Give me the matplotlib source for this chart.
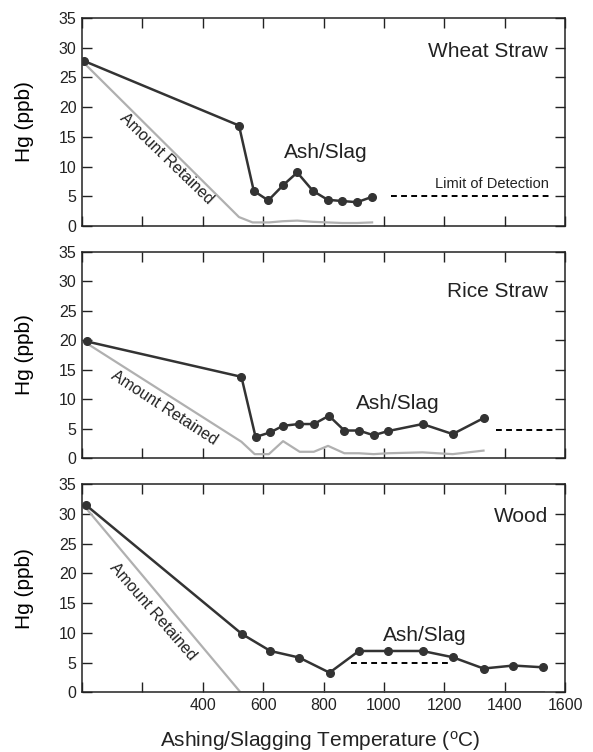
import numpy as np
import matplotlib
matplotlib.use("Agg")
import matplotlib.pyplot as plt

plt.rcParams["font.family"] = ["Liberation Sans", "DejaVu Sans"]
plt.rcParams["mathtext.default"] = "regular"

# ---- data ----
wheat_t = [5, 520, 569, 617, 667, 713, 765, 814, 862, 911, 961]
wheat_hg = [27.8, 16.9, 5.9, 4.3, 6.9, 9.0, 5.9, 4.4, 4.2, 4.0, 4.9]
wheat_ret_t = [5, 520, 565, 620, 665, 713, 765, 814, 862, 911, 961]
wheat_ret = [27.5, 1.5, 0.6, 0.6, 0.8, 0.9, 0.7, 0.6, 0.5, 0.5, 0.6]
wheat_lod = [1024, 1547]

rice_t = [15, 528, 575, 624, 666, 718, 768, 818, 869, 917, 966, 1013, 1128, 1228, 1330]
rice_hg = [19.8, 13.8, 3.6, 4.4, 5.5, 5.8, 5.8, 7.2, 4.7, 4.7, 3.9, 4.6, 5.8, 4.1, 6.8]
rice_ret_t = [15, 528, 572, 619, 666, 721, 768, 815, 869, 917, 966, 1013, 1128, 1228, 1330]
rice_ret = [19.5, 2.8, 0.7, 0.7, 2.9, 1.1, 1.1, 2.1, 0.85, 0.85, 0.7, 0.85, 1.0, 0.7, 1.3]
rice_lod = [1371, 1569]

wood_t = [13, 530, 624, 719, 820, 917, 1015, 1128, 1228, 1330, 1429, 1528]
wood_hg = [31.5, 9.8, 6.95, 5.85, 3.3, 6.95, 6.95, 6.95, 5.9, 4.0, 4.5, 4.2]
wood_ret_t = [13, 525, 1530]
wood_ret = [31.0, 0.0, 0.0]
wood_lod = [891, 1217]

lod_level = [5.0, 4.8, 4.9]
names = ["Wheat Straw", "Rice Straw", "Wood"]

# annotation placement (x, y, rotation) for each panel
ashslag_xy = [(807, 12.3), (1045, 9.3), (1136, 9.6)]
retained_xy = [(280, 11.4, -44), (271, 8.5, -33), (236, 13.6, -49)]

xticks = [0, 200, 400, 600, 800, 1000, 1200, 1400, 1600]
xticklabels = ["", "", "400", "600", "800", "1000", "1200", "1400", "1600"]
yticks = [0, 5, 10, 15, 20, 25, 30, 35]

panels = [
    (wheat_t, wheat_hg, wheat_ret_t, wheat_ret, wheat_lod),
    (rice_t, rice_hg, rice_ret_t, rice_ret, rice_lod),
    (wood_t, wood_hg, wood_ret_t, wood_ret, wood_lod),
]

fig = plt.figure(figsize=(5.93, 7.52), dpi=100)
boxes = [
    [0.1383, 0.6995, 0.8145, 0.2766],
    [0.1383, 0.3906, 0.8145, 0.2747],
    [0.1383, 0.0794, 0.8145, 0.2766],
]

dark = "#333333"
gray = "#b0b0b0"

for i, (t, hg, rt, ret, lod) in enumerate(panels):
    ax = fig.add_axes(boxes[i])
    ax.plot(rt, ret, color=gray, lw=1.6, zorder=2)
    ax.plot(t, hg, color=dark, lw=1.8, marker="o", ms=5.5, zorder=3)
    ax.plot(lod, [lod_level[i]] * 2, color="black", lw=1.4, ls=(0, (3, 2.2)))

    ax.set_xlim(0, 1600)
    ax.set_ylim(0, 35)
    ax.set_xticks(xticks)
    ax.set_yticks(yticks)
    if i == 2:
        ax.set_xticklabels(xticklabels)
    else:
        ax.set_xticklabels([])
    ax.tick_params(direction="in", length=7, width=1, top=True, right=True,
                   labelsize=11.5, colors="#222222", pad=4)
    for s in ax.spines.values():
        s.set_linewidth(1.1)
        s.set_color("#222222")
    ax.set_ylabel("Hg (ppb)", fontsize=15)
    ax.yaxis.set_label_coords(-0.10, 0.5)

    ax.text(1544, [29.3, 28.2, 29.6][i], names[i], ha="right", va="center",
            fontsize=15, color="#222222")
    ax.text(ashslag_xy[i][0], ashslag_xy[i][1], "Ash/Slag", ha="center",
            va="center", fontsize=15, color="#222222")
    rx, ry, rot = retained_xy[i]
    ax.text(rx, ry, "Amount Retained", ha="center", va="center", rotation=rot,
            rotation_mode="anchor", fontsize=11.5, color="#222222")
    if i == 0:
        ax.text(1547, 7.1, "Limit of Detection", ha="right", va="center",
                fontsize=10.5, color="#222222")

fig.text(0.54, 0.0146, r"Ashing/Slagging Temperature ($^{o}$C)", ha="center",
         va="center", fontsize=15, color="#222222")

fig.savefig("out.png", dpi=100)
